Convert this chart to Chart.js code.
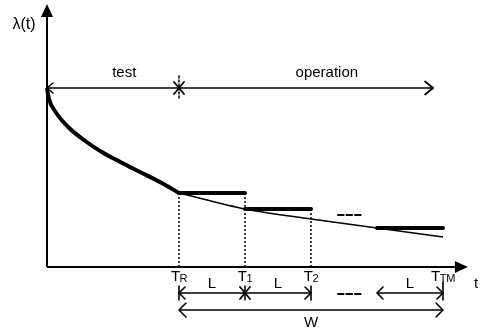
<!DOCTYPE html>
<html>
<head>
<meta charset="utf-8">
<script src="https://cdn.jsdelivr.net/npm/chart.js@4/dist/chart.umd.min.js"></script>
<style>
html,body{margin:0;padding:0;background:#fff;}
#wrap{width:481px;height:331px;}
</style>
</head>
<body>
<div id="wrap"><canvas id="c" width="481" height="331"></canvas></div>
<script>
// ---- data (time units: L = 1, lambda in arbitrary units) ----
const curveT = [0, 0.03, 0.12, 0.32, 0.58, 0.83, 1.11, 1.41, 1.74, 2];
const curveL = [179, 168, 156, 140, 126, 115, 105, 95, 84, 74];
const tailT = [2, 3, 4, 5, 6];
const tailL = [74, 58, 48, 39, 30];
const stepStart = [2, 3, 5];
const stepEnd = [3, 4, 6];
const stepLevel = [74, 58, 39];
const tickT = [2, 3, 4, 6];
const tickMain = ['T', 'T', 'T', 'T'];
const tickSub = ['R', '1', '2', 'TM'];
const dropTop = [74, 74, 58];       // top of dotted drop lines at TR, T1, T2
const lSegStart = [2, 3, 5];
const lSegEnd = [3, 4, 6];

// ---- layout constants (in chart units) ----
const AX_T_END = 6.18, AX_L_END = 250;
const PHASE_L = 179, PHASE_END = 5.85, TEST_END = 2;
const L_ROW = -26, W_ROW = -43;

const pts = (xs, ys) => xs.map((x, i) => ({x, y: ys[i]}));
const segs = (a, b, lv) => { const o = []; a.forEach((s, i) => { o.push({x: s, y: Array.isArray(lv) ? lv[i] : lv}, {x: b[i], y: Array.isArray(lv) ? lv[i] : lv}, {x: null, y: null}); }); return o; };
const drops = []; tickT.slice(0, 3).forEach((t, i) => { drops.push({x: t, y: dropTop[i]}, {x: t, y: 0}, {x: null, y: null}); });

const base = {showLine: true, pointRadius: 0, borderColor: '#000', fill: false, spanGaps: false};

const deco = {
  id: 'deco',
  afterDatasetsDraw(chart) {
    const ctx = chart.ctx, sx = chart.scales.x, sy = chart.scales.y;
    const X = v => sx.getPixelForValue(v), Y = v => sy.getPixelForValue(v);
    ctx.save();
    ctx.strokeStyle = '#000'; ctx.fillStyle = '#000';
    ctx.lineCap = 'round'; ctx.lineJoin = 'round';
    const line = (x1, y1, x2, y2, w) => { ctx.lineWidth = w; ctx.beginPath(); ctx.moveTo(x1, y1); ctx.lineTo(x2, y2); ctx.stroke(); };
    const openHead = (x, y, dir, len, half, w) => { ctx.lineWidth = w; ctx.beginPath(); ctx.moveTo(x - dir * len, y - half); ctx.lineTo(x, y); ctx.lineTo(x - dir * len, y + half); ctx.stroke(); };
    const star = (x, y, vh, dx, dy, dashed) => {
      if (dashed) ctx.setLineDash([2, 2]);
      line(x, y - vh, x, y + vh, 1.5);
      ctx.setLineDash([]);
      line(x - dx, y - dy, x + dx, y + dy, 1.8);
      line(x - dx, y + dy, x + dx, y - dy, 1.8);
    };
    // axis arrowheads (filled)
    const ox = X(0), oy = Y(0);
    ctx.beginPath(); ctx.moveTo(ox, 4); ctx.lineTo(ox - 6, Y(AX_L_END)); ctx.lineTo(ox + 6, Y(AX_L_END)); ctx.closePath(); ctx.fill();
    const ax = X(AX_T_END);
    ctx.beginPath(); ctx.moveTo(ax + 13, oy); ctx.lineTo(ax, oy - 6); ctx.lineTo(ax, oy + 6); ctx.closePath(); ctx.fill();
    // phase arrow heads + star
    const py = Y(PHASE_L);
    openHead(X(0), py, -1, 6, 5, 1.5);
    openHead(X(PHASE_END), py, 1, 8, 6.5, 1.8);
    star(X(TEST_END), py, 12, 5, 6, true);
    // L arrows
    const ly = Y(L_ROW);
    openHead(X(lSegStart[0]), ly, -1, 6, 6, 1.6);
    line(X(lSegStart[0]), ly - 7, X(lSegStart[0]), ly + 7, 1.6);
    star(X(lSegEnd[0]), ly, 7, 5, 6, false);
    openHead(X(lSegEnd[1]), ly, 1, 6, 6, 1.6);
    line(X(lSegEnd[1]), ly - 7, X(lSegEnd[1]), ly + 7, 1.6);
    openHead(X(lSegStart[2]), ly, -1, 6, 6, 1.6);
    openHead(X(lSegEnd[2]), ly, 1, 6, 6, 1.6);
    line(X(lSegEnd[2]), ly - 11, X(lSegEnd[2]), ly + 7, 1.6);
    // W arrow heads
    const wy = Y(W_ROW);
    openHead(X(tickT[0]), wy, -1, 7, 7, 1.6);
    openHead(X(tickT[3]), wy, 1, 7, 7, 1.6);
    // dashes "---"
    const dash3 = (x0, y) => { for (let i = 0; i < 3; i++) line(x0 + i * 8.5, y, x0 + i * 8.5 + 5.5, y, 2.2); };
    dash3(X(4.41), Y(52));
    dash3(X(4.41), Y(L_ROW) + 1);
    // text
    const F = 'Arial, "Liberation Sans", Helvetica, sans-serif';
    ctx.textBaseline = 'middle'; ctx.textAlign = 'center';
    ctx.font = '16px ' + F;
    ctx.fillText('λ(t)', 24, 25);
    ctx.font = '15px ' + F;
    ctx.fillText('test', X(1.17), Y(194));
    ctx.fillText('operation', X(4.24), Y(194));
    ctx.fillText('t', 476, 284);
    ctx.fillText('W', X(4), Y(-56));
    for (let i = 0; i < 3; i++) ctx.fillText('L', X(lSegStart[i] + 0.5), Y(-17));
    // subscripted tick labels
    ctx.textAlign = 'left'; ctx.textBaseline = 'alphabetic';
    tickT.forEach((t, i) => {
      ctx.font = '15px ' + F; const wm = ctx.measureText(tickMain[i]).width;
      ctx.font = '11px ' + F; const ws = ctx.measureText(tickSub[i]).width;
      const x0 = X(t) - (wm + ws) / 2 + 0.5, by = Y(-14);
      ctx.font = '15px ' + F; ctx.fillText(tickMain[i], x0, by);
      ctx.font = '11px ' + F; ctx.fillText(tickSub[i], x0 + wm - 0.5, by + 1);
    });
    ctx.restore();
  }
};

new Chart(document.getElementById('c'), {
  type: 'scatter',
  data: {
    datasets: [
      {...base, data: [{x: 0, y: 0}, {x: 0, y: AX_L_END}], borderWidth: 2},
      {...base, data: [{x: 0, y: 0}, {x: AX_T_END, y: 0}], borderWidth: 2},
      {...base, data: [{x: 0, y: PHASE_L}, {x: PHASE_END, y: PHASE_L}], borderWidth: 1.7},
      {...base, data: pts(curveT, curveL), borderWidth: 4, cubicInterpolationMode: 'monotone'},
      {...base, data: pts(tailT, tailL), borderWidth: 1.5, cubicInterpolationMode: 'monotone'},
      {...base, data: segs(stepStart, stepEnd, stepLevel), borderWidth: 4, borderCapStyle: 'round'},
      {...base, data: drops, borderWidth: 1.5, borderDash: [2, 2]},
      {...base, data: segs(lSegStart, lSegEnd, L_ROW), borderWidth: 1.5},
      {...base, data: [{x: tickT[0], y: W_ROW}, {x: tickT[3], y: W_ROW}], borderWidth: 1.5}
    ]
  },
  options: {
    responsive: false,
    animation: false,
    layout: {padding: 0},
    plugins: {legend: {display: false}, tooltip: {enabled: false}},
    elements: {line: {tension: 0}},
    scales: {
      x: {type: 'linear', display: false, min: -47 / 66, max: (481 - 47) / 66},
      y: {type: 'linear', display: false, min: -64, max: 267}
    }
  },
  plugins: [deco]
});
</script>
</body>
</html>
